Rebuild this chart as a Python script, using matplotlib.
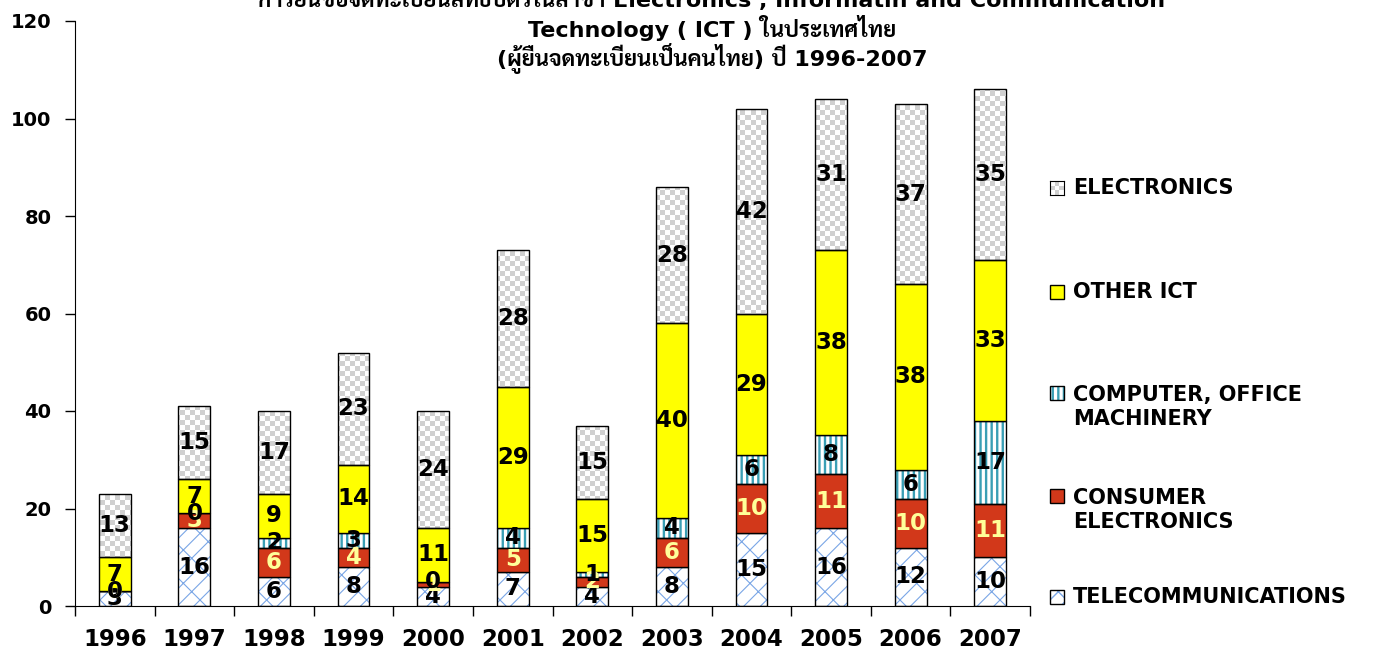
import numpy as np
import matplotlib
matplotlib.use("Agg")
import matplotlib.pyplot as plt
from matplotlib import font_manager
from matplotlib.colors import ListedColormap
from matplotlib.patches import Rectangle

years = ['1996', '1997', '1998', '1999', '2000', '2001', '2002', '2003', '2004', '2005', '2006', '2007']
telecom = [3, 16, 6, 8, 4, 7, 4, 8, 15, 16, 12, 10]
consumer = [0, 3, 6, 4, 1, 5, 2, 6, 10, 11, 10, 11]
computer = [0, 0, 2, 3, 0, 4, 1, 4, 6, 8, 6, 17]
other_ict = [7, 7, 9, 14, 11, 29, 15, 40, 29, 38, 38, 33]
electronics = [13, 15, 17, 23, 24, 28, 15, 28, 42, 31, 37, 35]

title_lines = ["การยื่นขอจดทะเบียนสิทธิบัตรในสาขา Electronics , Informatin and Communication",
               "Technology ( ICT ) ในประเทศไทย",
               "(ผู้ยื่นจดทะเบียนเป็นคนไทย) ปี 1996-2007"]

# pick a Thai font that has a bold face
bold_fams = {f.name for f in font_manager.fontManager.ttflist if f.weight in (700, 'bold')}
thai = next((n for n in ['Noto Sans Thai Looped', 'Noto Sans Thai', 'Sarabun', 'Kanit',
                         'Bai Jamjuree', 'Athiti', 'Chakra Petch'] if n in bold_fams), 'Athiti')

RED = '#d2381a'
YELLOW = '#ffff00'
TEAL = '#3a9fb5'
BLUE = '#7aa6e6'
GRAY = '#d0d0d0'

fig = plt.figure(figsize=(13.81, 6.53), dpi=100)
ax = fig.add_axes([75/1381, 1-606/653, 955/1381, 585/653])

x = np.arange(len(years))
w = 0.40
bottom = np.zeros(len(years))

# telecom: white with blue brick-ish hatch
with plt.rc_context({'hatch.linewidth': 0.8}):
    ax.bar(x, telecom, w, bottom=bottom, color='white', edgecolor=BLUE, hatch='/x', lw=0, zorder=1)
ax.bar(x, telecom, w, bottom=bottom, fill=False, edgecolor='black', lw=1, zorder=3)
tel_b = bottom.copy()
bottom += telecom

ax.bar(x, consumer, w, bottom=bottom, color=RED, edgecolor='black', lw=1, zorder=3)
con_b = bottom.copy()
bottom += consumer

with plt.rc_context({'hatch.linewidth': 1.7}):
    ax.bar(x, computer, w, bottom=bottom, color='white', edgecolor=TEAL, hatch='|||', lw=0, zorder=1)
ax.bar(x, computer, w, bottom=bottom, fill=False, edgecolor='black', lw=1, zorder=3)
com_b = bottom.copy()
bottom += computer

ax.bar(x, other_ict, w, bottom=bottom, color=YELLOW, edgecolor='black', lw=1, zorder=3)
oth_b = bottom.copy()
bottom += other_ict

elec = ax.bar(x, electronics, w, bottom=bottom, fill=False, edgecolor='black', lw=1, zorder=3)
ele_b = bottom.copy()

# checkerboard fill for electronics (about 5 px cells)
ny, nx = 117, 191
checker = np.add.outer(np.arange(ny), np.arange(nx)) % 2
cmap = ListedColormap(['white', GRAY])
for rect in elec:
    im = ax.imshow(checker, cmap=cmap, extent=(-0.5, 11.5, 0, 120), aspect='auto',
                   interpolation='nearest', zorder=1.5)
    im.set_clip_path(rect)

# value labels
for vals, base, col in [(telecom, tel_b, 'black'), (consumer, con_b, '#ffff99'),
                        (computer, com_b, 'black'), (other_ict, oth_b, 'black'),
                        (electronics, ele_b, 'black')]:
    for xi, v, b in zip(x, vals, base):
        ax.text(xi, b + v/2, str(v), ha='center', va='center', fontsize=16.5,
                fontweight='bold', color=col, zorder=5)

ax.set_xlim(-0.5, 11.5)
ax.set_ylim(0, 120)
ax.set_yticks(range(0, 121, 20))
ax.tick_params(axis='y', labelsize=14, length=7, width=1, pad=10)
for t in ax.get_yticklabels():
    t.set_fontweight('bold')
ax.set_xticks(x)
ax.set_xticklabels(years, fontsize=16.5, fontweight='bold')
ax.tick_params(axis='x', which='major', length=0, pad=16)
ax.set_xticks(np.arange(-0.5, 12, 1), minor=True)
ax.tick_params(axis='x', which='minor', length=7, width=1, direction='out')
ax.spines['top'].set_visible(False)
ax.spines['right'].set_visible(False)

# title
fam = ['DejaVu Sans', thai]
for i, line in enumerate(title_lines):
    fig.text(712/1381, 1 - (-2 + 30*i)/653, line, ha='center', va='center',
             fontsize=16, fontweight='bold', family=fam)

# legend drawn by hand: (label, marker y, text centre y) in pixels
leg = [('ELECTRONICS', 188, 188), ('OTHER ICT', 292, 292),
       ('COMPUTER, OFFICE\nMACHINERY', 393, 407),
       ('CONSUMER\nELECTRONICS', 496, 510), ('TELECOMMUNICATIONS', 597, 597)]
bx, bs = 1050, 14
for i, (lab, yp, yt) in enumerate(leg):
    fx, fy = bx/1381, 1 - (yp + bs/2)/653
    fw, fh = bs/1381, bs/653
    if i == 0:
        lax = fig.add_axes([fx, fy, fw, fh])
        lax.imshow(np.add.outer(np.arange(3), np.arange(3)) % 2, cmap=cmap,
                   interpolation='nearest', aspect='auto')
        lax.set_xticks([])
        lax.set_yticks([])
    elif i == 1:
        fig.patches.append(Rectangle((fx, fy), fw, fh, transform=fig.transFigure,
                                     facecolor=YELLOW, edgecolor='black', lw=1))
    elif i == 2:
        with plt.rc_context({'hatch.linewidth': 1.7}):
            fig.patches.append(Rectangle((fx, fy), fw, fh, transform=fig.transFigure,
                                         facecolor='white', edgecolor=TEAL, hatch='|||', lw=0))
        fig.patches.append(Rectangle((fx, fy), fw, fh, transform=fig.transFigure,
                                     fill=False, edgecolor='black', lw=1))
    elif i == 3:
        fig.patches.append(Rectangle((fx, fy), fw, fh, transform=fig.transFigure,
                                     facecolor=RED, edgecolor='black', lw=1))
    else:
        fig.patches.append(Rectangle((fx, fy), fw, fh, transform=fig.transFigure,
                                     facecolor='white', edgecolor=BLUE, hatch='/x', lw=0))
        fig.patches.append(Rectangle((fx, fy), fw, fh, transform=fig.transFigure,
                                     fill=False, edgecolor='black', lw=1))
    fig.text(1073/1381, 1 - yt/653, lab, ha='left', va='center', fontsize=15,
             fontweight='bold', linespacing=1.3)

fig.savefig("out.png", dpi=100)
